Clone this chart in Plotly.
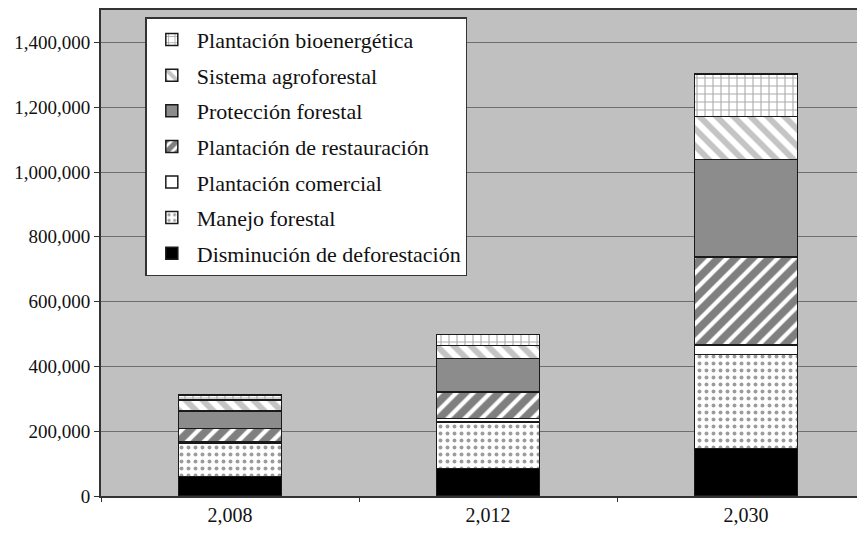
import plotly.graph_objs as go

years = ["2,008", "2,012", "2,030"]

disminucion = [60000, 85000, 147000]
manejo = [103000, 144000, 290000]
comercial = [5000, 10000, 29000]
restauracion = [41000, 82000, 272000]
proteccion = [53000, 103000, 301000]
agroforestal = [34000, 41000, 133000]
bioenergetica = [15000, 34000, 131000]

serif = "Liberation Serif, Times New Roman, serif"

# (name, values, fill colour, pattern shape, pattern colour, size, solidity)
series = [
    ("Disminución de deforestación", disminucion, "#000000", "", "#000000", 0, 0),
    ("Manejo forestal", manejo, "#ffffff", ".", "#3a3a3a", 7, 0.25),
    ("Plantación comercial", comercial, "#ffffff", "", "#000000", 0, 0),
    ("Plantación de restauración", restauracion, "#ffffff", "/", "#000000", 12, 0.65),
    ("Protección forestal", proteccion, "#8c8c8c", "", "#000000", 0, 0),
    ("Sistema agroforestal", agroforestal, "#ffffff", "\\", "#8a8a8a", 12, 0.5),
    ("Plantación bioenergética", bioenergetica, "#ffffff", "+", "#555555", 8, 0.25),
]

fig = go.Figure()
for i, (name, vals, color, shape, fg, sz, sol) in enumerate(series):
    pattern = dict(shape=shape, fgcolor=fg, bgcolor=color, size=sz, solidity=sol) if shape else None
    fig.add_trace(go.Bar(
        x=years, y=vals, name=name, legendgroup=name, legendrank=100 - i,
        marker=dict(color=color, line=dict(color="#1a1a1a", width=1.5), pattern=pattern),
        width=0.4,
    ))

# page body has an 8px margin, so the figure is shrunk by that much
fig.update_layout(
    width=857, height=526,
    barmode="stack",
    paper_bgcolor="white",
    plot_bgcolor="#c0c0c0",
    margin=dict(l=93, r=0, t=0, b=38),
    font=dict(family=serif, size=18, color="#111111"),
    legend=dict(
        x=0.058, y=0.985, xanchor="left", yanchor="top",
        traceorder="grouped", tracegroupgap=4, itemwidth=40,
        bgcolor="white", bordercolor="#333333", borderwidth=1.5,
        font=dict(family=serif, size=22, color="#111111"),
    ),
)
fig.update_xaxes(
    range=[-0.5, 2.461], showgrid=False,
    showline=True, mirror=True, linecolor="#333333", linewidth=1.5,
    tickfont=dict(family=serif, size=20),
    ticks="outside", tickson="boundaries", ticklen=4, tickcolor="#333333",
)
fig.update_yaxes(
    range=[0, 1500000], tickvals=[0, 200000, 400000, 600000, 800000, 1000000, 1200000, 1400000],
    tickformat=",", showgrid=True, gridcolor="#6e6e6e", gridwidth=1,
    showline=True, linecolor="#333333", linewidth=2,
    ticks="outside", ticklen=5, tickcolor="#333333",
    tickfont=dict(family=serif, size=19), zeroline=False,
)

fig.write_html("out.html")
